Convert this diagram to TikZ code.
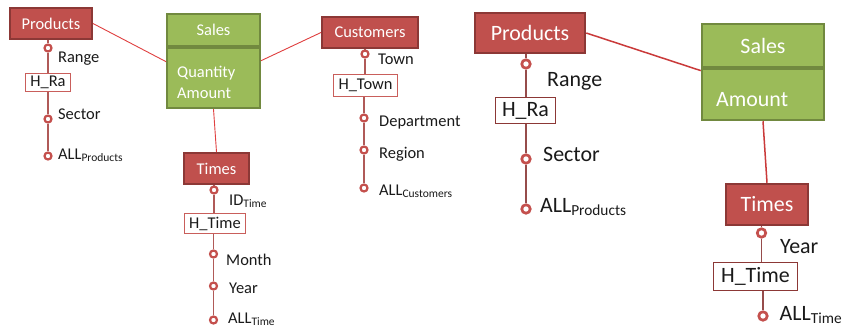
\documentclass[tikz,border=0pt]{standalone}
\usepackage{fontspec}
\setmainfont{Carlito}
\definecolor{dimfill}{HTML}{C0504D}
\definecolor{dimline}{HTML}{8C3836}
\definecolor{factfill}{HTML}{9BBB59}
\definecolor{factline}{HTML}{71893F}
\definecolor{lvlred}{HTML}{C4504D}
\definecolor{chainred}{HTML}{B05A58}
\definecolor{linkred}{HTML}{E04040}
\definecolor{hred}{HTML}{C95E5B}
\definecolor{txt}{HTML}{1A1A1A}
\tikzset{
  fsL/.style={font=\fontsize{16.5}{20}\selectfont},
  fsR/.style={font=\fontsize{22}{26}\selectfont},
  dimbox/.style={fsL, rectangle, fill=dimfill, draw=dimline, line width=2bp, text=white, inner sep=0},
  dimboxR/.style={dimbox, fsR, line width=2.5bp},
  factbox/.style={fsL, rectangle, fill=factfill, draw=factline, line width=2bp, text=white, inner sep=0},
  factboxR/.style={factbox, fsR, line width=2.5bp},
  hbox/.style={fsL, rectangle, fill=white, draw=hred, line width=1bp, text=txt, inner sep=0},
  hboxR/.style={hbox, fsR, draw=dimline, line width=1.3bp},
  lvl/.style={circle, draw=lvlred, fill=white, line width=2.2bp, inner sep=0, minimum size=7bp},
  lvlR/.style={lvl, line width=2.7bp, minimum size=8.5bp},
  chain/.style={draw=chainred, line width=1.4bp},
  chainR/.style={draw=chainred!85!black, line width=1.8bp},
  link/.style={draw=linkred, line width=0.9bp},
  linkR/.style={draw=linkred!90!black, line width=1.5bp},
  lblL/.style={fsL, anchor=base west, inner sep=0, text=txt},
  lblR/.style={fsR, anchor=base west, inner sep=0, text=txt},
  attr/.style={anchor=base west, inner sep=0, text=white}
}
\begin{document}
\begin{tikzpicture}[x=1bp,y=-1bp]
\fill[white] (0,0) rectangle (842,331);
\useasboundingbox (0,0) rectangle (842,331);

% ---------- left diagram ----------
\node[factbox, minimum width=93bp, minimum height=32bp] (salT) at (213.5,30) {Sales};
\node[factbox, minimum width=93bp, minimum height=60bp] (salB) at (213.5,78) {};
\node[attr, fsL] (salQ) at (177,77) {Quantity};
\node[attr, fsL] (salA) at (177,98) {Amount};

\node[dimbox, minimum width=82bp, minimum height=31bp] (prodL) at (51,23.5) {Products};
\node[lvl] (prL1) at (48,48) {};
\node[hbox, minimum width=45bp, minimum height=18bp] (hraL) at (48,82.5) {H\_Ra};
\node[lvl] (prL2) at (48,119) {};
\node[lvl] (prL3) at (48,156) {};
\node[lblL] (tRangeL) at (58,62) {Range};
\node[lblL] (tSectorL) at (58,119) {Sector};
\node[lblL] (tAllPL) at (58,159) {ALL\textsubscript{Products}};
\draw[chain] (prodL.south -| prL1) -- (prL1);
\draw[chain] (prL1) -- (hraL);
\draw[chain] (hraL) -- (prL2);
\draw[chain] (prL2) -- (prL3);

\node[dimbox, minimum width=96bp, minimum height=31bp] (cusL) at (370,32.5) {Customers};
\node[lvl] (cu1) at (365,54) {};
\node[hbox, minimum width=64bp, minimum height=22bp] (htoL) at (365.5,85.5) {H\_Town};
\node[lvl] (cu2) at (364,118) {};
\node[lvl] (cu3) at (364,150) {};
\node[lvl] (cu4) at (364,188) {};
\node[lblL] (tTown) at (378,64) {Town};
\node[lblL] (tDep) at (379,126.5) {Department};
\node[lblL] (tReg) at (379,158) {Region};
\node[lblL] (tAllC) at (379,195) {ALL\textsubscript{Customers}};
\draw[chain] (cusL.south -| cu1) -- (cu1);
\draw[chain] (cu1) -- (cu1 |- htoL.north);
\draw[chain] (htoL.south -| cu2) -- (cu2);
\draw[chain] (cu2) -- (cu3);
\draw[chain] (cu3) -- (cu4);

\node[dimbox, minimum width=65bp, minimum height=31bp] (timL) at (216.5,168.5) {Times};
\node[lvl] (tiL1) at (214,190) {};
\node[hbox, minimum width=61bp, minimum height=20bp] (htiL) at (215,223.5) {H\_Time};
\node[lvl] (tiL2) at (213.5,254) {};
\node[lvl] (tiL3) at (213.5,286) {};
\node[lvl] (tiL4) at (213.5,320) {};
\node[lblL] (tID) at (229,205) {ID\textsubscript{Time}};
\node[lblL] (tMonth) at (226,265) {Month};
\node[lblL] (tYearL) at (229,293) {Year};
\node[lblL] (tAllTL) at (228,323) {ALL\textsubscript{Time}};
\draw[chain] (timL.south -| tiL1) -- (tiL1);
\draw[chain] (tiL1) -- (tiL1 |- htiL.north);
\draw[chain] (htiL.south -| tiL2) -- (tiL2);
\draw[chain] (tiL2) -- (tiL3);
\draw[chain] (tiL3) -- (tiL4);

\draw[link] (prodL.east) -- (salB.161);
\draw[link] (salB.20) -- (cusL.west);
\draw[link] (salB.south) -- (timL.north);

% ---------- right diagram ----------
\node[dimboxR, minimum width=110bp, minimum height=40bp] (prodR) at (530,33) {Products};
\node[lvlR] (prR1) at (526,64) {};
\node[hboxR, minimum width=60bp, minimum height=26bp] (hraR) at (525.5,110.5) {H\_Ra};
\node[lvlR] (prR2) at (526,159) {};
\node[lvlR] (prR3) at (526,209) {};
\node[lblR] (tRangeR) at (547,86) {Range};
\node[lblR] (tSectorR) at (543,161) {Sector};
\node[lblR] (tAllPR) at (540,212) {ALL\textsubscript{Products}};
\draw[chainR] (prodR.south -| prR1) -- (prR1);
\draw[chainR] (prR1) -- (prR1 |- hraR.north);
\draw[chainR] (hraR.south -| prR2) -- (prR2);
\draw[chainR] (prR2) -- (prR3);

\node[factboxR, minimum width=122bp, minimum height=43bp] (salRT) at (763,45.5) {Sales};
\node[factboxR, minimum width=122bp, minimum height=51bp] (salRB) at (763,94.5) {};
\node[attr, fsR] (salRA) at (716,106) {Amount};

\node[dimboxR, minimum width=82bp, minimum height=41bp] (timR) at (767,204.5) {Times};
\node[lvlR] (tiR1) at (761.5,233) {};
\node[hboxR, minimum width=84bp, minimum height=28bp] (htiR) at (755.5,276.5) {H\_Time};
\node[lvlR] (tiR2) at (763,316) {};
\node[lblR] (tYearR) at (780,253) {Year};
\node[lblR] (tAllTR) at (779.5,320) {ALL\textsubscript{Time}};
\draw[chainR] (timR.south -| tiR1) -- (tiR1);
\draw[chainR] (tiR1) -- (tiR1 |- htiR.north);
\draw[chainR] (htiR.south -| tiR2) -- (tiR2);

\draw[linkR] (prodR.east) -- (salRB.159);
\draw[linkR] (salRB.south) -- (timR.north);
\end{tikzpicture}
\end{document}
